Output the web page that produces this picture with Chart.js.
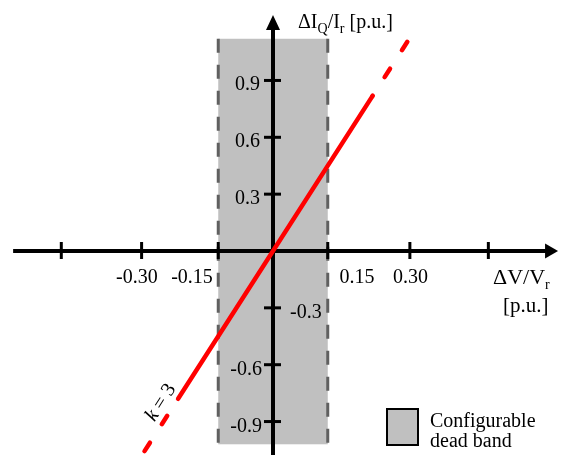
<!DOCTYPE html>
<html>
<head>
<meta charset="utf-8">
<script src="https://cdn.jsdelivr.net/npm/chart.js@4.4.0/dist/chart.umd.min.js"></script>
<style>
  html, body { margin: 0; padding: 0; background: #ffffff; }
  #wrap { width: 561px; height: 455px; position: relative; }
</style>
</head>
<body>
<div id="wrap"><canvas id="c"></canvas></div>
<script>
// ---------- data ----------
const slopeK = 3;
// red characteristic line, y = k*x
const solidX = [-0.26, 0.272];
const solidY = [-0.78, 0.816];
const upperDashX = [0.368, 0.272];
const upperDashY = [1.104, 0.816];
const lowerDashX = [-0.352, -0.26];
const lowerDashY = [-1.056, -0.78];
// configurable dead band
const bandX = [-0.15, 0.15];
const bandY = [-1.02, 1.12];
// y-axis ticks
const yTickValues = [0.9, 0.6, 0.3, -0.3, -0.6, -0.9];
const yTickLabels = ['0.9', '0.6', '0.3', '-0.3', '-0.6', '-0.9'];
// x-axis tick marks as drawn in the (schematic) figure
const xTickMarks = [-0.58, -0.36, -0.15, 0.15, 0.375, 0.59];
// x-axis tick labels and where they sit along the axis
const xTickLabels = ['-0.30', '-0.15', '0.15', '0.30'];
const xTickLabelAt = [-0.373, -0.222, 0.230, 0.377];
// axis extents
const xAxisRange = [-0.712, 0.781];
const yAxisRange = [-1.08, 1.245];

function pts(xs, ys) { return xs.map((x, i) => ({ x: x, y: ys[i] })); }

const SERIF = '"Liberation Serif", "Times New Roman", serif';

const drawPlugin = {
  id: 'schematic',
  beforeDatasetsDraw(chart) {
    const ctx = chart.ctx;
    const xs = chart.scales.x, ys = chart.scales.y;
    const X = v => xs.getPixelForValue(v);
    const Y = v => ys.getPixelForValue(v);
    ctx.save();
    // band fill
    const bx0 = X(bandX[0]), bx1 = X(bandX[1]);
    const by0 = Y(bandY[1]), by1 = Y(bandY[0]);
    ctx.fillStyle = '#c0c0c0';
    ctx.fillRect(bx0, by0, bx1 - bx0, by1 - by0);
    // dashed band edges
    ctx.strokeStyle = '#606060';
    ctx.lineWidth = 3;
    ctx.setLineDash([14, 12]);
    [bx0, bx1].forEach(px => {
      ctx.beginPath();
      ctx.moveTo(px, by0);
      ctx.lineTo(px, by1);
      ctx.stroke();
    });
    ctx.setLineDash([]);

    // axes
    const ox = X(0), oy = Y(0);
    ctx.strokeStyle = '#000';
    ctx.fillStyle = '#000';
    ctx.lineWidth = 4;
    const xStart = X(xAxisRange[0]), xEnd = X(xAxisRange[1]);
    const yBot = Y(yAxisRange[0]), yTop = Y(yAxisRange[1]);
    ctx.beginPath();
    ctx.moveTo(xStart, oy); ctx.lineTo(xEnd - 10, oy);
    ctx.stroke();
    ctx.beginPath();
    ctx.moveTo(ox, yBot); ctx.lineTo(ox, yTop + 10);
    ctx.stroke();
    // arrow heads
    ctx.beginPath();
    ctx.moveTo(xEnd, oy); ctx.lineTo(xEnd - 13, oy - 7.5); ctx.lineTo(xEnd - 13, oy + 7.5);
    ctx.closePath(); ctx.fill();
    ctx.beginPath();
    ctx.moveTo(ox, yTop); ctx.lineTo(ox - 7, yTop + 15); ctx.lineTo(ox + 7, yTop + 15);
    ctx.closePath(); ctx.fill();

    // tick marks
    ctx.lineWidth = 3;
    xTickMarks.forEach(v => {
      const px = X(v);
      ctx.beginPath(); ctx.moveTo(px, oy - 9); ctx.lineTo(px, oy + 8); ctx.stroke();
    });
    yTickValues.forEach(v => {
      const py = Y(v);
      ctx.beginPath(); ctx.moveTo(ox - 9, py); ctx.lineTo(ox + 8, py); ctx.stroke();
    });

    // tick labels
    ctx.font = '20px ' + SERIF;
    ctx.textBaseline = 'alphabetic';
    yTickValues.forEach((v, i) => {
      const py = Y(v) + 10;
      const lab = yTickLabels[i];
      if (v === -0.3) {
        ctx.textAlign = 'left';
        ctx.fillText(lab, ox + 17, py);
      } else if (v > 0) {
        ctx.textAlign = 'right';
        ctx.fillText(lab, ox - 13, py);
      } else {
        ctx.textAlign = 'right';
        ctx.fillText(lab, ox - 11, py);
      }
    });
    ctx.textAlign = 'center';
    xTickLabels.forEach((lab, i) => {
      ctx.fillText(lab, X(xTickLabelAt[i]), oy + 32);
    });

    // axis titles
    ctx.textAlign = 'left';
    function rich(parts, x, y) {
      let cx = x;
      parts.forEach(p => {
        ctx.font = (p.sub ? '14px ' : (p.size || 20) + 'px ') + SERIF;
        ctx.fillText(p.t, cx, y + (p.sub ? 5 : 0));
        cx += ctx.measureText(p.t).width;
      });
    }
    rich([{ t: '\u0394I', size: 20 }, { t: 'Q', sub: true }, { t: '/I', size: 20 },
          { t: 'r', sub: true }, { t: ' [p.u.]', size: 20 }], 298, 27.5);
    rich([{ t: '\u0394V/V', size: 22 }, { t: 'r', sub: true }], 493, 284);
    ctx.font = '21px ' + SERIF;
    ctx.fillText('[p.u.]', 503, 312);
    ctx.restore();
  },
  afterDatasetsDraw(chart) {
    const ctx = chart.ctx;
    const xs = chart.scales.x, ys = chart.scales.y;
    ctx.save();
    // slope label along the line
    const px = xs.getPixelForValue(-0.307), py = ys.getPixelForValue(-0.80);
    const ang = Math.atan2(ys.getPixelForValue(0) - ys.getPixelForValue(slopeK * 0.1),
                           xs.getPixelForValue(0.1) - xs.getPixelForValue(0));
    ctx.translate(px, py);
    ctx.rotate(-ang);
    ctx.fillStyle = '#000';
    ctx.textBaseline = 'middle';
    ctx.font = 'italic 20px ' + SERIF;
    const w1 = ctx.measureText('k').width;
    ctx.font = '20px ' + SERIF;
    const w2 = ctx.measureText(' = ' + slopeK).width;
    const sx = -(w1 + w2) / 2;
    ctx.font = 'italic 20px ' + SERIF;
    ctx.textAlign = 'left';
    ctx.fillText('k', sx, 0);
    ctx.font = '20px ' + SERIF;
    ctx.fillText(' = ' + slopeK, sx + w1, 0);
    ctx.restore();

    // legend
    ctx.save();
    ctx.fillStyle = '#c0c0c0';
    ctx.fillRect(387, 409, 31, 36);
    ctx.strokeStyle = '#000';
    ctx.lineWidth = 2;
    ctx.strokeRect(387, 409, 31, 36);
    ctx.fillStyle = '#000';
    ctx.font = '20px ' + SERIF;
    ctx.textAlign = 'left';
    ctx.textBaseline = 'alphabetic';
    ctx.fillText('Configurable', 430, 427);
    ctx.fillText('dead band', 430, 447);
    ctx.restore();
  }
};

// scale limits so that the origin sits where the figure puts it
const xMin = -273 / 365, xMax = (561 - 273) / 365;
const yMax = 251 / 189.5, yMin = -(455 - 251) / 189.5;

const lineStyle = {
  showLine: true, borderColor: '#ff0000', borderWidth: 4.5,
  pointRadius: 0, borderCapStyle: 'round', fill: false, tension: 0
};

new Chart(document.getElementById('c'), {
  type: 'scatter',
  data: {
    datasets: [
      Object.assign({ label: 'solid', data: pts(solidX, solidY) }, lineStyle),
      Object.assign({ label: 'upper', data: pts(upperDashX, upperDashY), borderDash: [10, 22] }, lineStyle),
      Object.assign({ label: 'lower', data: pts(lowerDashX, lowerDashY), borderDash: [10, 22] }, lineStyle)
    ]
  },
  options: {
    responsive: true,
    maintainAspectRatio: false,
    animation: false,
    layout: { padding: 0 },
    plugins: { legend: { display: false }, tooltip: { enabled: false }, title: { display: false } },
    scales: {
      x: { type: 'linear', min: xMin, max: xMax, display: false },
      y: { type: 'linear', min: yMin, max: yMax, display: false }
    }
  },
  plugins: [drawPlugin]
});
</script>
</body>
</html>
